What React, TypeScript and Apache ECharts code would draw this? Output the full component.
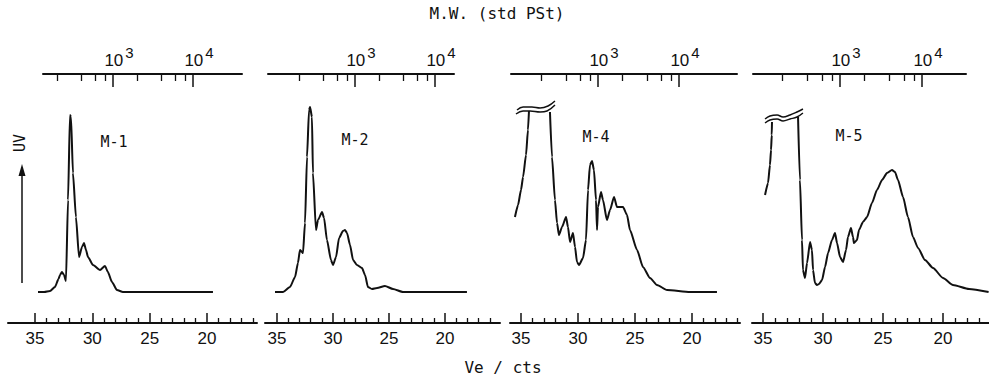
import React, { useEffect, useRef } from "react";
import * as echarts from "echarts";

// ---- data (Ve in counts, UV response in arbitrary units) ----
const sampleNames = ["M-1", "M-2", "M-4", "M-5"];
const veTicks = [35, 30, 25, 20];
const veMinor = [34, 33, 32, 31, 29, 28, 27, 26, 24, 23, 22, 21, 19, 18, 17, 16];
const mwMajor = [1000, 10000];
const mwMinor = [200, 400, 600, 800, 2000, 4000, 6000, 8000];

const m1Trace = [
  [34.74, 0], [34.2, 0], [33.69, 1], [33.26, 5], [32.95, 13], [32.82, 17], [32.65, 20], [32.47, 17],
  [32.3, 11], [32.12, 92], [31.95, 177], [31.86, 175], [31.69, 119], [31.43, 75], [31.16, 35],
  [30.9, 45], [30.73, 49], [30.55, 42], [30.38, 35], [29.94, 27], [29.33, 22], [28.9, 26],
  [28.64, 20], [28.29, 10], [27.85, 2], [27.33, 0], [19.48, 0],
];
const m2Trace = [
  [35.18, 0], [34.46, 0], [33.84, 5], [33.39, 15], [33.13, 29], [32.95, 42], [32.77, 40], [32.68, 39],
  [32.5, 69], [32.32, 135], [32.14, 182], [32.05, 185], [31.88, 175], [31.79, 119], [31.52, 62],
  [31.34, 72], [30.98, 80], [30.8, 74], [30.54, 52], [30.18, 32], [30.0, 27], [29.73, 35],
  [29.46, 54], [29.11, 61], [28.93, 62], [28.75, 59], [28.48, 47], [28.21, 32], [27.86, 27],
  [27.41, 24], [27.14, 17], [26.88, 5], [26.52, 3], [26.07, 4], [25.36, 6], [24.64, 3],
  [23.75, 0], [18.04, 0],
];
const m4Rise = [[35.53, 75], [35.26, 87], [35.0, 102], [34.82, 115], [34.56, 137], [34.39, 162], [34.3, 181]];
const m4Tail = [
  [32.46, 180], [32.28, 135], [32.02, 92], [31.84, 69], [31.67, 57], [31.4, 65], [31.05, 75],
  [30.88, 65], [30.7, 50], [30.44, 59], [30.26, 45], [30.09, 30], [29.91, 27], [29.56, 34],
  [29.3, 52], [29.12, 102], [28.95, 127], [28.77, 131], [28.6, 122], [28.42, 92], [28.33, 62],
  [28.25, 85], [27.98, 100], [27.81, 92], [27.46, 72], [27.19, 82], [26.84, 95], [26.58, 85],
  [26.32, 85], [26.05, 85], [25.7, 77], [25.44, 62], [24.82, 42], [24.3, 25], [23.68, 14],
  [23.07, 7], [22.19, 2], [20.18, 0], [17.81, 0],
];
const m4BreakLow = [[35.44, 178], [34.82, 181], [34.21, 181], [33.33, 180], [32.72, 181], [32.02, 187]];
const m4BreakHigh = [[35.35, 182], [34.82, 185], [34.04, 185], [33.33, 184], [32.63, 186], [32.02, 191]];
const m5Rise = [[34.83, 97], [34.58, 109], [34.42, 127], [34.33, 142], [34.27, 157], [34.25, 170]];
const m5Tail = [
  [32.08, 175], [31.92, 112], [31.75, 52], [31.67, 22], [31.5, 14], [31.33, 29], [31.08, 50],
  [30.92, 42], [30.83, 22], [30.67, 9], [30.5, 7], [30.33, 8], [30.08, 12], [29.83, 25],
  [29.58, 39], [29.25, 52], [29.0, 59], [28.83, 49], [28.58, 35], [28.33, 30], [28.08, 42],
  [27.92, 55], [27.67, 64], [27.5, 55], [27.42, 49], [27.17, 52], [27.0, 62], [26.67, 70],
  [26.33, 75], [25.92, 89], [25.5, 102], [25.08, 112], [24.67, 119], [24.25, 122], [24.0, 120],
  [23.75, 112], [23.33, 95], [22.92, 75], [22.5, 55], [22.08, 44], [21.5, 32], [20.83, 24],
  [20.0, 14], [19.17, 7], [17.83, 3], [16.2, 0],
];
const m5BreakLow = [[34.83, 169], [34.42, 172], [33.83, 173], [33.33, 171], [32.75, 173], [32.17, 175], [31.67, 179]];
const m5BreakHigh = [[34.83, 173], [34.42, 176], [33.83, 177], [33.33, 175], [32.75, 177], [32.17, 180], [31.67, 183]];

const traces = [[m1Trace], [m2Trace], [m4Rise, m4Tail], [m5Rise, m5Tail]];
const breaks = [[], [], [m4BreakLow, m4BreakHigh], [m5BreakLow, m5BreakHigh]];

// ---- layout (pixels) ----
const panelLayout = [
  { left: 8, right: 257, px35: 35, px20: 207, tLeft: 43, tRight: 242, px1e3: 113, px1e4: 193, labelX: 114, labelY: 142 },
  { left: 265, right: 500, px35: 277, px20: 445, tLeft: 268, tRight: 454, px1e3: 355, px1e4: 435, labelX: 355, labelY: 140 },
  { left: 510, right: 740, px35: 521, px20: 692, tLeft: 511, tRight: 737, px1e3: 598, px1e4: 679, labelX: 596, labelY: 137 },
  { left: 752, right: 989, px35: 763, px20: 943, tLeft: 753, tRight: 966, px1e3: 840, px1e4: 922, labelX: 849, labelY: 136 },
];

const ink = "#111";
const numFont = "Liberation Sans";
const monoFont = "DejaVu Sans Mono";

function buildOption() {
  const grids: any[] = [];
  const xAxes: any[] = [];
  const yAxes: any[] = [];
  const series: any[] = [];
  const graphics: any[] = [];

  panelLayout.forEach((p, i) => {
    const k = (p.px20 - p.px35) / 15;
    const veMax = 35 + (p.px35 - p.left) / k;
    const veMin = 35 - (p.right - p.px35) / k;
    const d = p.px1e4 - p.px1e3;
    const mwMin = 3 - (p.px1e3 - p.tLeft) / d;
    const mwMax = 4 + (p.tRight - p.px1e4) / d;
    const inVe = (v: number) => v >= veMin && v <= veMax;
    const inMw = (v: number) => v >= mwMin && v <= mwMax;

    grids.push({ left: p.left, top: 100, width: p.right - p.left, height: 223 });
    grids.push({ left: p.tLeft, top: 74, width: p.tRight - p.tLeft, height: 10 });

    xAxes.push({
      gridIndex: 2 * i, type: "value", position: "bottom", inverse: true, min: veMin, max: veMax,
      axisLine: { show: true, onZero: false, lineStyle: { color: ink, width: 2 } },
      axisTick: { show: true, inside: true, length: 10, customValues: veTicks.filter(inVe), lineStyle: { color: ink, width: 1.5 } },
      axisLabel: { show: true, customValues: veTicks.filter(inVe), margin: 7, color: ink, fontSize: 17, fontFamily: numFont },
      splitLine: { show: false },
    });
    xAxes.push({
      gridIndex: 2 * i, type: "value", position: "bottom", inverse: true, min: veMin, max: veMax,
      axisLine: { show: false, onZero: false },
      axisTick: { show: true, inside: true, length: 5, customValues: veMinor.filter(inVe), lineStyle: { color: ink, width: 1.3 } },
      axisLabel: { show: false }, splitLine: { show: false },
    });
    xAxes.push({
      gridIndex: 2 * i + 1, type: "value", position: "top", min: mwMin, max: mwMax,
      axisLine: { show: true, onZero: false, lineStyle: { color: ink, width: 2 } },
      axisTick: { show: true, inside: true, length: 7, customValues: mwMinor.map(Math.log10).filter(inMw), lineStyle: { color: ink, width: 1.3 } },
      axisLabel: { show: false }, splitLine: { show: false },
    });
    const majors = mwMajor.map((v) => Math.round(Math.log10(v)));
    xAxes.push({
      gridIndex: 2 * i + 1, type: "value", position: "top", min: mwMin, max: mwMax,
      axisLine: { show: false, onZero: false },
      axisTick: { show: true, inside: true, length: 13, customValues: majors, lineStyle: { color: ink, width: 1.5 } },
      axisLabel: {
        show: true, customValues: majors, margin: 5,
        formatter: (v: number) => `{b|10}{s|${Math.round(v)}}`,
        rich: {
          b: { fontSize: 17, fontFamily: numFont, color: ink, lineHeight: 24, verticalAlign: "bottom", padding: [0, 0, 0, 12] },
          s: { fontSize: 15, fontFamily: numFont, color: ink, lineHeight: 6, verticalAlign: "top", padding: [0, 0, 0, 2] },
        },
      },
      splitLine: { show: false },
    });
    yAxes.push({ gridIndex: 2 * i, type: "value", min: -31, max: 192, show: false });
    yAxes.push({ gridIndex: 2 * i + 1, type: "value", min: 0, max: 1, show: false });

    traces[i].forEach((t) => {
      series.push({
        type: "line", xAxisIndex: 4 * i, yAxisIndex: 2 * i, data: t, symbol: "none",
        smooth: 0.2, smoothMonotone: "x",
        lineStyle: { color: ink, width: 2 }, silent: true,
      });
    });
    breaks[i].forEach((t) => {
      series.push({
        type: "line", xAxisIndex: 4 * i, yAxisIndex: 2 * i, data: t, symbol: "none",
        smooth: 0.4, lineStyle: { color: ink, width: 1.5 }, silent: true,
      });
    });

    graphics.push({
      type: "text", x: p.labelX, y: p.labelY,
      style: { text: sampleNames[i], fill: ink, font: `15px "${monoFont}"`, align: "center", verticalAlign: "middle", textAlign: "center", textVerticalAlign: "middle" },
    });
  });

  graphics.push(
    {
      type: "text", x: 497, y: 13,
      style: { text: "M.W. (std PSt)", fill: ink, font: `16px "${monoFont}"`, align: "center", verticalAlign: "middle", textAlign: "center", textVerticalAlign: "middle" },
    },
    {
      type: "text", x: 503, y: 367,
      style: { text: "Ve / cts", fill: ink, font: `16px "${monoFont}"`, align: "center", verticalAlign: "middle", textAlign: "center", textVerticalAlign: "middle" },
    },
    {
      type: "text", x: 20, y: 143, rotation: Math.PI / 2,
      style: { text: "UV", fill: ink, font: `15px "${monoFont}"`, align: "center", verticalAlign: "middle", textAlign: "center", textVerticalAlign: "middle" },
    },
    { type: "line", shape: { x1: 22, y1: 283, x2: 22, y2: 172 }, style: { stroke: ink, lineWidth: 1.5 } },
    { type: "polygon", shape: { points: [[22, 164], [18.5, 176], [25.5, 176]] }, style: { fill: ink } }
  );

  return {
    animation: false,
    backgroundColor: "#fff",
    textStyle: { fontFamily: numFont, color: ink },
    grid: grids,
    xAxis: xAxes,
    yAxis: yAxes,
    series,
    graphic: graphics,
  };
}

export default function App() {
  const ref = useRef<HTMLDivElement>(null);
  useEffect(() => {
    const chart = echarts.init(ref.current!, null, { renderer: "svg" });
    chart.setOption(buildOption() as any);
    return () => chart.dispose();
  }, []);
  return (
    <div
      ref={ref}
      style={{ position: "fixed", left: 0, top: 0, width: 989, height: 378, background: "#fff" }}
    />
  );
}
